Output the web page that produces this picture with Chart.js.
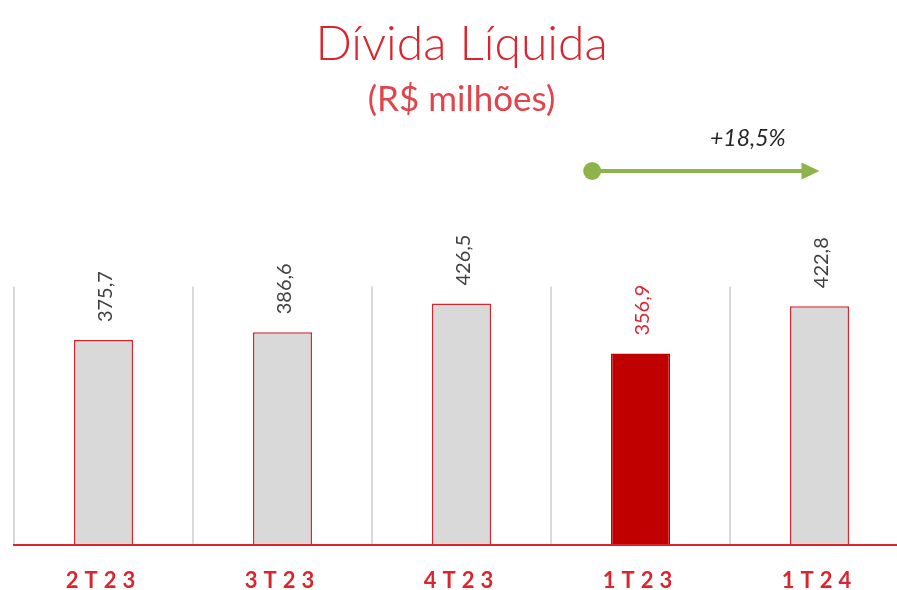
<!DOCTYPE html>
<html>
<head>
<meta charset="utf-8">
<script src="https://cdn.jsdelivr.net/npm/chart.js@4/dist/chart.umd.min.js"></script>
<style>
  html, body { margin: 0; padding: 0; background: #fff; overflow: hidden; }
  #wrap { width: 918px; height: 590px; }
</style>
</head>
<body>
<div id="wrap"><canvas id="chart" width="918" height="590"></canvas></div>
<script>
//
//    Divida Liquida - bar chart
//
var categories  = ['2T23', '3T23', '4T23', '1T23', '1T24'];
var values      = [375.7, 386.6, 426.5, 356.9, 422.8];
var valueLabels = ['375,7', '386,6', '426,5', '356,9', '422,8'];
var growthLabel = '+18,5%';
var highlight   = 3;          // 1T23 drawn in dark red

var RED      = '#d9262e';
var DARK_RED = '#c00000';
var GREY     = '#d9d9d9';
var GREEN    = '#8db44a';
var FONT     = 'Lato, "Open Sans", sans-serif';

var myChart;

window.onload = function(){
  initChart();
}

//------------- labels + arrow ------------- //
var barLabels = {
  id: 'barLabels',
  afterDatasetsDraw: function(chart) {
    var ctx  = chart.ctx;
    var meta = chart.getDatasetMeta(0);
    var x    = chart.scales.x;

    ctx.save();
    ctx.font = '20px ' + FONT;
    ctx.textAlign = 'left';
    ctx.textBaseline = 'middle';
    for (let i = 0; i < meta.data.length; i++) {
      let bar = meta.data[i];
      ctx.save();
      ctx.translate(bar.x + 2, bar.y - 18);
      ctx.rotate(-Math.PI / 2);
      ctx.fillStyle = (i == highlight) ? RED : '#404040';
      ctx.fillText(valueLabels[i], 0, 0);
      ctx.restore();
    }

    // growth arrow from 1T23 to 1T24
    let x0 = x.getPixelForValue(3) - x.width / 5 * 0.27;
    let x1 = x.getPixelForValue(4);
    let y  = 171;
    ctx.strokeStyle = GREEN;
    ctx.fillStyle = GREEN;
    ctx.lineWidth = 4;
    ctx.beginPath();
    ctx.moveTo(x0, y);
    ctx.lineTo(x1 - 16, y);
    ctx.stroke();
    ctx.beginPath();
    ctx.arc(x0, y, 9, 0, Math.PI * 2);
    ctx.fill();
    ctx.beginPath();
    ctx.moveTo(x1, y);
    ctx.lineTo(x1 - 18, y - 8.5);
    ctx.lineTo(x1 - 18, y + 8.5);
    ctx.closePath();
    ctx.fill();

    ctx.fillStyle = '#262626';
    ctx.font = 'italic 23px ' + FONT;
    ctx.textAlign = 'center';
    ctx.textBaseline = 'middle';
    ctx.fillText(growthLabel, (x0 + x1) / 2 + 42, 139);
    ctx.restore();

    // spaced out x labels (drawn after this hook, ticks.z = 1)
    ctx.letterSpacing = '6px';
  },
  afterDraw: function(chart) {
    chart.ctx.letterSpacing = '0px';
  }
};

//------------- Init chart------------- //
function initChart(){
  var ctx = document.getElementById('chart').getContext('2d');

  myChart = new Chart(ctx, {
    type: 'bar',
    data: {
      labels: categories,
      datasets: [{
        data: values,
        backgroundColor: values.map((v, i) => i == highlight ? DARK_RED : GREY),
        borderColor: values.map((v, i) => i == highlight ? DARK_RED : RED),
        borderWidth: 1.5,
        borderSkipped: false,
        barPercentage: 0.33,
        categoryPercentage: 1.0
      }]
    },
    options: {
      responsive: false,
      animation: false,
      layout: { padding: { left: 14, right: 9, top: 0, bottom: 0 } },
      plugins: {
        legend: { display: false },
        tooltip: { enabled: false },
        title: {
          display: true,
          text: 'Dívida Líquida',
          color: RED,
          font: { family: FONT, size: 48, weight: 300 },
          padding: { top: 16, bottom: 5 }
        },
        subtitle: {
          display: true,
          text: '(R$ milhões)',
          color: '#e0444d',
          font: { family: FONT, size: 35, weight: 'normal' },
          padding: { top: 0, bottom: 166 }
        }
      },
      scales: {
        x: {
          grid: { display: true, offset: true, color: GREY, lineWidth: 2, drawTicks: false },
          border: { display: true, color: RED, width: 2, z: 1 },
          ticks: {
            z: 1,
            color: RED,
            padding: 23,
            font: { family: FONT, size: 22, weight: 'bold' }
          },
          afterFit: function(scale) {
            scale.height = 45;
          }
        },
        y: {
          display: false,
          min: 91,
          max: 450
        }
      }
    },
    plugins: [barLabels]
  });
}
</script>
</body>
</html>
